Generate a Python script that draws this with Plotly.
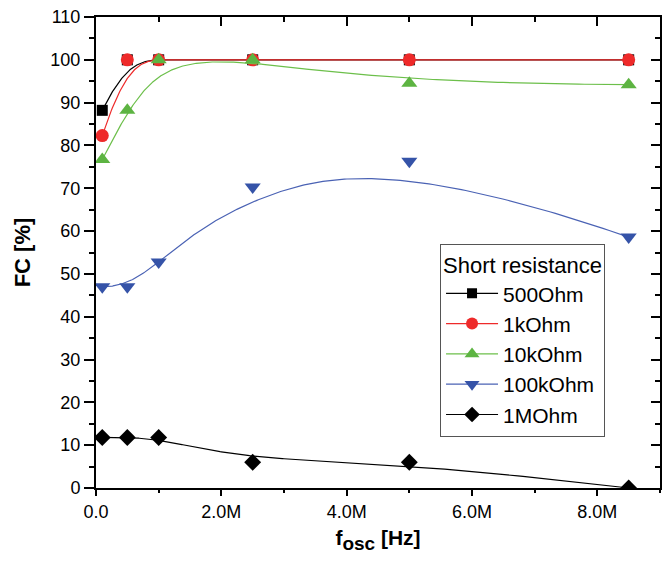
import numpy as np
import plotly.graph_objects as go

# Oscillation frequency (Hz) at which FC was measured
freq = [0.1e6, 0.5e6, 1.0e6, 2.5e6, 5.0e6, 8.5e6]

# FC [%] for each short resistance
fc_500ohm = [88.2, 100.0, 100.0, 100.0, 100.0, 100.0]
fc_1kohm = [82.3, 100.0, 100.0, 100.0, 100.0, 100.0]
fc_10kohm = [76.7, 88.2, 100.0, 100.0, 94.5, 94.2]
fc_100kohm = [47.0, 47.0, 52.8, 70.3, 76.3, 58.6]
fc_1mohm = [11.8, 11.8, 11.8, 6.0, 6.0, 0.0]

series_names = ["500Ohm", "1kOhm", "10kOhm", "100kOhm", "1MOhm"]
x_tick_vals = [0, 2e6, 4e6, 6e6, 8e6]
x_tick_text = ["0.0", "2.0M", "4.0M", "6.0M", "8.0M"]
y_tick_vals = list(range(0, 111, 10))

FONT = "Arial, 'Liberation Sans', Helvetica, sans-serif"


def bspline(xs, ys, k=3, n=300):
    """Clamped uniform B-spline using the data points as control points."""
    ctrl = np.column_stack([xs, ys]).astype(float)
    m = len(ctrl)
    knots = np.concatenate([np.zeros(k), np.linspace(0, 1, m - k + 1), np.ones(k)])
    out = []
    for t in np.linspace(0, 1, n):
        s = int(np.searchsorted(knots, t, side="right") - 1)
        s = min(s, m - 1)
        d = [ctrl[j + s - k].copy() for j in range(k + 1)]
        for r in range(1, k + 1):
            for j in range(k, r - 1, -1):
                lo = knots[j + s - k]
                hi = knots[j + 1 + s - r]
                a = 0.0 if hi == lo else (t - lo) / (hi - lo)
                d[j] = (1 - a) * d[j - 1] + a * d[j]
        out.append(d[k])
    out = np.array(out)
    return out[:, 0], out[:, 1]


styles = [
    (fc_500ohm, "#000000", "#000000", "square", 11),
    (fc_1kohm, "#ee2a2a", "#ee2a2a", "circle", 13),
    (fc_10kohm, "#6cbf4a", "#5db442", "triangle-up", 14),
    (fc_100kohm, "#4a62b4", "#3553a8", "triangle-down", 14),
    (fc_1mohm, "#000000", "#000000", "diamond", 13),
]

fig = go.Figure()
for name, (vals, lcol, mcol, sym, size) in zip(series_names, styles):
    cx, cy = bspline(freq, vals)
    fig.add_trace(go.Scatter(x=cx, y=cy, mode="lines", line=dict(color=lcol, width=1.2),
                             showlegend=False, hoverinfo="skip"))
    fig.add_trace(go.Scatter(x=freq, y=vals, mode="markers", showlegend=False,
                             marker=dict(symbol=sym, size=size, color=mcol, line=dict(width=0))))
    # legend entry: line with marker
    fig.add_trace(go.Scatter(x=[None], y=[None], mode="lines+markers", name=name,
                             line=dict(color=lcol, width=1.2),
                             marker=dict(symbol=sym, size=size - 1, color=mcol, line=dict(width=0))))

axis_common = dict(showline=True, linecolor="black", linewidth=2, tickwidth=2,
                   tickcolor="black", showgrid=False, zeroline=False,
                   tickfont=dict(family=FONT, size=18, color="black"))

fig.update_layout(
    width=667, height=568,
    margin=dict(l=96, r=7, t=14, b=80),
    paper_bgcolor="white", plot_bgcolor="white",
    font=dict(family=FONT, color="black"),
    xaxis=dict(range=[0, 9e6], tickvals=x_tick_vals, ticktext=x_tick_text,
               ticks="outside", ticklen=6,
               minor=dict(dtick=1e6, tick0=0, ticks="outside", ticklen=3, tickwidth=2, tickcolor="black"),
               title=dict(text="<b>f<sub><span style='font-size:19px'>osc</span></sub> [Hz]</b>",
                          font=dict(family=FONT, size=21), standoff=10),
               **axis_common),
    yaxis=dict(range=[0, 110], tickvals=y_tick_vals, ticks="outside", ticklen=10,
               minor=dict(dtick=5, tick0=0, ticks="outside", ticklen=5, tickwidth=2, tickcolor="black"),
               title=dict(text="<b>FC [%]</b>", font=dict(family=FONT, size=22), standoff=14),
               **axis_common),
    xaxis2=dict(range=[0, 9e6], overlaying="x", side="top", tickvals=x_tick_vals,
                showticklabels=False, ticks="inside", ticklen=9,
                minor=dict(dtick=1e6, tick0=0, ticks="inside", ticklen=5, tickwidth=2, tickcolor="black"),
                **axis_common),
    yaxis2=dict(range=[0, 110], overlaying="y", side="right", tickvals=y_tick_vals,
                showticklabels=False, ticks="inside", ticklen=9,
                minor=dict(dtick=5, tick0=0, ticks="inside", ticklen=5, tickwidth=2, tickcolor="black"),
                **axis_common),
    legend=dict(x=0.61, y=0.519, xanchor="left", yanchor="top",
                bgcolor="white", bordercolor="#555555", borderwidth=1,
                font=dict(family=FONT, size=21, color="black"),
                title=dict(text="Short resistance", font=dict(family=FONT, size=22)),
                itemwidth=52, tracegroupgap=0),
)

# invisible trace so the mirrored top/right axes are drawn
fig.add_trace(go.Scatter(x=[None], y=[None], xaxis="x2", yaxis="y2", showlegend=False))

fig.write_html("out.html")
